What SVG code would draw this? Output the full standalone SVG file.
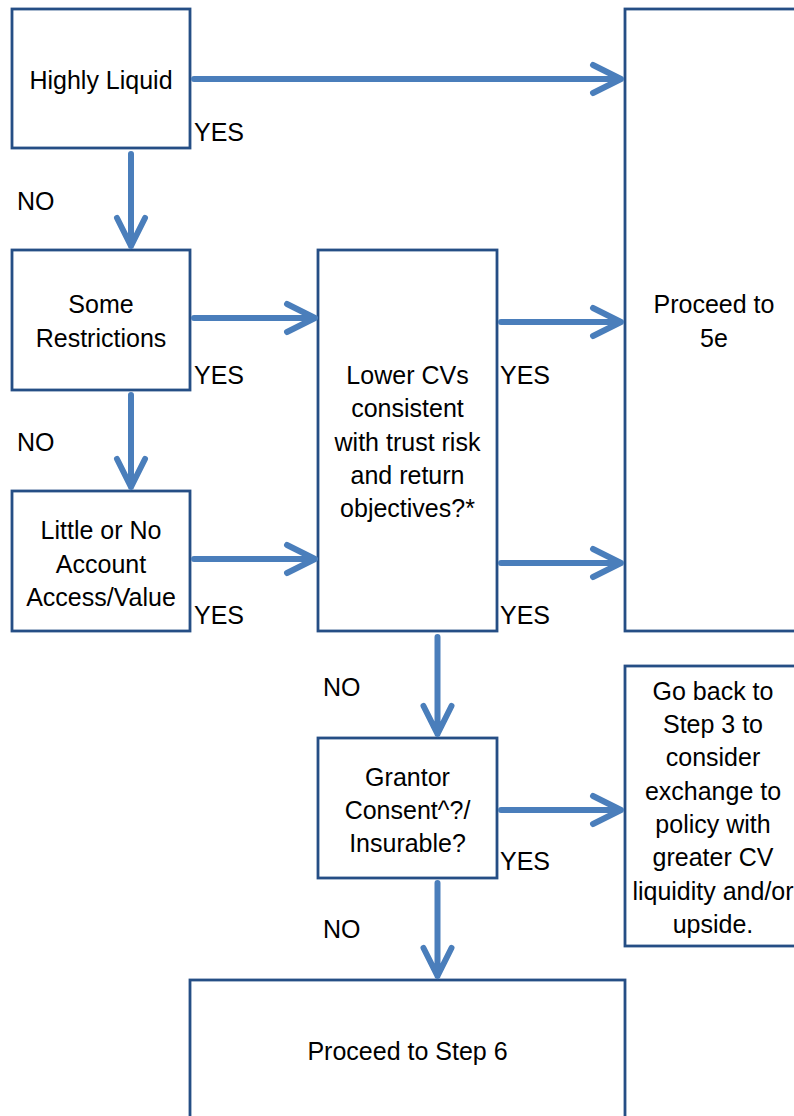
<svg xmlns="http://www.w3.org/2000/svg" width="794" height="1116" viewBox="0 0 794 1116">
<style>
.box{fill:#fff;stroke:#254E85;stroke-width:2.8}
.t{font-family:"Liberation Sans",Arial,sans-serif;font-size:25px;fill:#000;text-anchor:middle}
.l{font-family:"Liberation Sans",Arial,sans-serif;font-size:25px;fill:#000}
.c{fill:none;stroke:#4A7EBB;stroke-width:6;stroke-linecap:round;stroke-linejoin:round}
</style>
<rect width="794" height="1116" fill="#fff"/>
<g id="n-highly-liquid"><rect class="box" x="12" y="9" width="178" height="139"/><text class="t" x="101" y="89">Highly Liquid</text></g>
<g id="n-some-restrictions"><rect class="box" x="12" y="250" width="178" height="140"/><text class="t" x="101" y="313">Some</text><text class="t" x="101" y="347">Restrictions</text></g>
<g id="n-little"><rect class="box" x="12" y="491" width="178" height="140"/><text class="t" x="101" y="539">Little or No</text><text class="t" x="101" y="573">Account</text><text class="t" x="101" y="606">Access/Value</text></g>
<g id="n-lower-cvs"><rect class="box" x="318" y="250" width="179" height="381"/><text class="t" x="407.5" y="384">Lower CVs</text><text class="t" x="407.5" y="417">consistent</text><text class="t" x="407.5" y="451">with trust risk</text><text class="t" x="407.5" y="484">and return</text><text class="t" x="407.5" y="517">objectives?*</text></g>
<g id="n-proceed-5e"><rect class="box" x="625" y="9" width="180" height="622"/><text class="t" x="714" y="313">Proceed to</text><text class="t" x="714" y="347">5e</text></g>
<g id="n-grantor"><rect class="box" x="318" y="738" width="179" height="140"/><text class="t" x="407.5" y="786">Grantor</text><text class="t" x="407.5" y="819">Consent^?/</text><text class="t" x="407.5" y="852">Insurable?</text></g>
<g id="n-go-back"><rect class="box" x="625" y="666" width="180" height="280"/><text class="t" x="713" y="700">Go back to</text><text class="t" x="713" y="733">Step 3 to</text><text class="t" x="713" y="766">consider</text><text class="t" x="713" y="800">exchange to</text><text class="t" x="713" y="833">policy with</text><text class="t" x="713" y="866">greater CV</text><text class="t" x="713" y="900">liquidity and/or</text><text class="t" x="713" y="933">upside.</text></g>
<g id="n-step6"><rect class="box" x="190" y="980" width="435" height="150"/><text class="t" x="407.5" y="1060">Proceed to Step 6</text></g>
<g id="connectors">
<path class="c" d="M194 79 L621 79 M593 65 L621 79 L593 93"/>
<path class="c" d="M131 154 L131 246 M117 218 L131 246 L145 218"/>
<path class="c" d="M131 395 L131 487 M117 459 L131 487 L145 459"/>
<path class="c" d="M194 318 L315 318 M287 304 L315 318 L287 332"/>
<path class="c" d="M194 559 L315 559 M287 545 L315 559 L287 573"/>
<path class="c" d="M501 322 L621 322 M593 308 L621 322 L593 336"/>
<path class="c" d="M501 563 L621 563 M593 549 L621 563 L593 577"/>
<path class="c" d="M437.5 637 L437.5 734 M423.5 706 L437.5 734 L451.5 706"/>
<path class="c" d="M501 810 L621 810 M593 796 L621 810 L593 824"/>
<path class="c" d="M437.5 883 L437.5 976 M423.5 948 L437.5 976 L451.5 948"/>
</g>
<g id="labels">
<text class="l" x="194" y="141">YES</text>
<text class="l" x="17" y="210">NO</text>
<text class="l" x="194" y="384">YES</text>
<text class="l" x="17" y="451">NO</text>
<text class="l" x="194" y="624">YES</text>
<text class="l" x="500" y="384">YES</text>
<text class="l" x="500" y="624">YES</text>
<text class="l" x="323" y="696">NO</text>
<text class="l" x="500" y="870">YES</text>
<text class="l" x="323" y="938">NO</text>
</g>
</svg>
